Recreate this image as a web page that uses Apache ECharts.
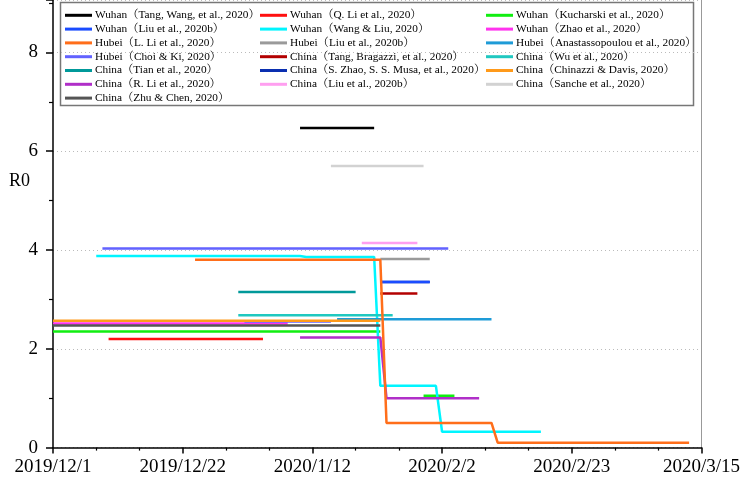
<!DOCTYPE html>
<html>
<head>
<meta charset="utf-8">
<script src="https://cdn.jsdelivr.net/npm/echarts@6/dist/echarts.min.js"></script>
<style>
  html, body { margin: 0; padding: 0; background: #fff; }
  #chart { width: 743px; height: 479px; }
</style>
</head>
<body>
<div id="chart"></div>
<script>
// 日期轴：2019/12/1 ~ 2020/3/15，每 21 天一个主刻度
const xStart = '2019/12/1';
const xTicks = ['2019/12/1', '2019/12/22', '2020/1/12', '2020/2/2', '2020/2/23', '2020/3/15'];
const yTicks = [0, 2, 4, 6, 8];

// 各研究的 R0 估计 [日期, R0]，null 表示断开
const tangWang = [['2020/1/10', 6.47], ['2020/1/22', 6.47]];
const qLi = [['2019/12/10', 2.2], ['2020/1/4', 2.2]];
const kucharski = [['2019/12/1', 2.35], ['2020/1/23', 2.35], null, ['2020/1/30', 1.05], ['2020/2/4', 1.05]];
const liuWuhan = [['2020/1/23', 3.35], ['2020/1/31', 3.35]];
const wangLiu = [['2019/12/8', 3.88], ['2020/1/10', 3.88], ['2020/1/11', 3.86], ['2020/1/22', 3.86],
  ['2020/1/23', 1.25], ['2020/2/1', 1.25], ['2020/2/2', 0.32], ['2020/2/18', 0.32]];
const zhao = [['2019/12/1', 2.51], ['2020/1/8', 2.51]];
const lLi = [['2019/12/24', 3.8], ['2020/1/23', 3.8], ['2020/1/24', 0.5], ['2020/2/10', 0.5],
  ['2020/2/11', 0.1], ['2020/3/13', 0.1]];
const liuHubei = [['2020/1/23', 3.82], ['2020/1/31', 3.82]];
const anastassopoulou = [['2020/1/16', 2.6], ['2020/2/10', 2.6]];
const choiKi = [['2019/12/9', 4.03], ['2020/2/3', 4.03], null, ['2020/1/1', 2.55], ['2020/1/15', 2.55]];
const tangBragazzi = [['2020/1/23', 3.12], ['2020/1/29', 3.12]];
const wu = [['2019/12/31', 2.68], ['2020/1/25', 2.68]];
const tian = [['2019/12/31', 3.15], ['2020/1/19', 3.15]];
const sZhao = [['2020/1/23', 3.35], ['2020/1/31', 3.35]];
const chinazzi = [['2019/12/1', 2.57], ['2020/1/23', 2.57]];
const rLi = [['2020/1/10', 2.23], ['2020/1/23', 2.23], ['2020/1/24', 1.0], ['2020/2/8', 1.0]];
const liuChina = [['2020/1/20', 4.14], ['2020/1/29', 4.14]];
const sanche = [['2020/1/15', 5.7], ['2020/1/30', 5.7]];
const zhuChen = [['2019/12/1', 2.47], ['2020/1/23', 2.47]];

const DAY = 86400000;
const t0 = parseDate(xStart);
function parseDate(s) {
  const p = s.split('/').map(Number);
  return Date.UTC(p[0], p[1] - 1, p[2]);
}
function toDay(s) { return (parseDate(s) - t0) / DAY; }
function fmtDay(v) {
  const d = new Date(t0 + v * DAY);
  return d.getUTCFullYear() + '/' + (d.getUTCMonth() + 1) + '/' + d.getUTCDate();
}
function pts(arr) {
  return arr.map(p => p ? [toDay(p[0]), p[1]] : ['-', '-']);
}

const SERIF = "'Times New Roman', 'Liberation Serif', 'Noto Serif CJK SC', 'Noto Sans CJK SC', serif";

// 绘制顺序（后画的在上面）
const seriesList = [
  { name: 'China（S. Zhao, S. S. Musa, et al., 2020）', data: sZhao, color: '#0a2fb0' },
  { name: 'Wuhan（Tang, Wang, et al., 2020）', data: tangWang, color: '#000000' },
  { name: 'Wuhan（Q. Li et al., 2020）', data: qLi, color: '#ff1010' },
  { name: 'Wuhan（Kucharski et al., 2020）', data: kucharski, color: '#11ee11' },
  { name: 'Wuhan（Liu et al., 2020b）', data: liuWuhan, color: '#1a4cff' },
  { name: 'Wuhan（Wang & Liu, 2020）', data: wangLiu, color: '#00f5ff' },
  { name: 'Wuhan（Zhao et al., 2020）', data: zhao, color: '#ff33ee' },
  { name: 'Hubei（Liu et al., 2020b）', data: liuHubei, color: '#9a9a9a' },
  { name: 'Hubei（Anastassopoulou et al., 2020）', data: anastassopoulou, color: '#1e9bd7' },
  { name: 'Hubei（Choi & Ki, 2020）', data: choiKi, color: '#6262ff' },
  { name: 'China（Tang, Bragazzi, et al., 2020）', data: tangBragazzi, color: '#b30000' },
  { name: 'China（Wu et al., 2020）', data: wu, color: '#20c8c0' },
  { name: 'China（Tian et al., 2020）', data: tian, color: '#00999a' },
  { name: 'China（Chinazzi & Davis, 2020）', data: chinazzi, color: '#ff9a1a' },
  { name: 'China（Liu et al., 2020b）', data: liuChina, color: '#ff9ff0' },
  { name: 'China（Sanche et al., 2020）', data: sanche, color: '#d2d2d2' },
  { name: 'China（Zhu & Chen, 2020）', data: zhuChen, color: '#555555' },
  { name: 'China（R. Li et al., 2020）', data: rLi, color: '#b02fc8' },
  { name: 'Hubei（L. Li et al., 2020）', data: lLi, color: '#ff6e1a' }
];

const legendCols = [
  ['Wuhan（Tang, Wang, et al., 2020）', 'Wuhan（Liu et al., 2020b）', 'Hubei（L. Li et al., 2020）',
   'Hubei（Choi & Ki, 2020）', 'China（Tian et al., 2020）', 'China（R. Li et al., 2020）', 'China（Zhu & Chen, 2020）'],
  ['Wuhan（Q. Li et al., 2020）', 'Wuhan（Wang & Liu, 2020）', 'Hubei（Liu et al., 2020b）',
   'China（Tang, Bragazzi, et al., 2020）', 'China（S. Zhao, S. S. Musa, et al., 2020）', 'China（Liu et al., 2020b）'],
  ['Wuhan（Kucharski et al., 2020）', 'Wuhan（Zhao et al., 2020）', 'Hubei（Anastassopoulou et al., 2020）',
   'China（Wu et al., 2020）', 'China（Chinazzi & Davis, 2020）', 'China（Sanche et al., 2020）']
];
const legendLeft = [65, 260, 486];

const xMin = toDay(xTicks[0]);
const xMax = toDay(xTicks[xTicks.length - 1]);
const xStep = toDay(xTicks[1]) - xMin;
const yStep = yTicks[1] - yTicks[0];

const chart = echarts.init(document.getElementById('chart'));
chart.setOption({
  animation: false,
  backgroundColor: '#ffffff',
  grid: { left: 53, right: 40, top: 0, bottom: 31.4 },
  legend: legendCols.map((col, i) => ({
    orient: 'vertical',
    left: legendLeft[i],
    top: 9.3,
    padding: 0,
    data: col,
    icon: 'rect',
    itemWidth: 27,
    itemHeight: 3,
    itemGap: 1.8,
    selectedMode: false,
    textStyle: { fontFamily: SERIF, fontSize: 11.3, color: '#000', lineHeight: 12, padding: [0, 0, 0, -2] }
  })),
  graphic: [
    {
      type: 'rect', z: -1, silent: true,
      shape: { x: 60.5, y: 2.5, width: 633, height: 103 },
      style: { fill: '#ffffff', stroke: '#777', lineWidth: 1.5 }
    },
    {
      type: 'text', left: 9, top: 172,
      style: { text: 'R0', font: '18px ' + SERIF, fill: '#000' }
    }
  ],
  xAxis: {
    type: 'value',
    min: xMin, max: xMax, interval: xStep,
    splitLine: { show: false },
    axisLine: { lineStyle: { color: '#000', width: 1.5 } },
    axisTick: { inside: false, length: 6, lineStyle: { color: '#000', width: 1.5 } },
    minorTick: { show: true, splitNumber: 3, length: 3, lineStyle: { color: '#000', width: 1.2 } },
    axisLabel: {
      margin: 10,
      fontFamily: SERIF, fontSize: 19, color: '#000',
      formatter: v => fmtDay(v)
    }
  },
  yAxis: [{
    type: 'value',
    min: yTicks[0], max: 9.06, interval: yStep,
    axisLine: { show: true, lineStyle: { color: '#000', width: 1.5 } },
    axisTick: { show: true, length: 7, lineStyle: { color: '#000', width: 1.5 } },
    minorTick: { show: true, splitNumber: 2, length: 4, lineStyle: { color: '#000', width: 1.2 } },
    splitLine: { show: true, lineStyle: { color: '#bbbbbb', type: [1, 3], width: 1 } },
    axisLabel: {
      margin: 15, showMaxLabel: false,
      fontFamily: SERIF, fontSize: 19, color: '#000'
    }
  }, {
    type: 'value', position: 'right',
    min: yTicks[0], max: 9.06,
    axisLine: { show: true, lineStyle: { color: '#999', width: 1 } },
    axisTick: { show: false },
    axisLabel: { show: false },
    splitLine: { show: false }
  }],
  series: seriesList.map(s => ({
    name: s.name,
    type: 'line',
    data: pts(s.data),
    showSymbol: false,
    symbol: 'none',
    connectNulls: false,
    color: s.color,
    lineStyle: { color: s.color, width: 2.5 }
  }))
});
</script>
</body>
</html>
